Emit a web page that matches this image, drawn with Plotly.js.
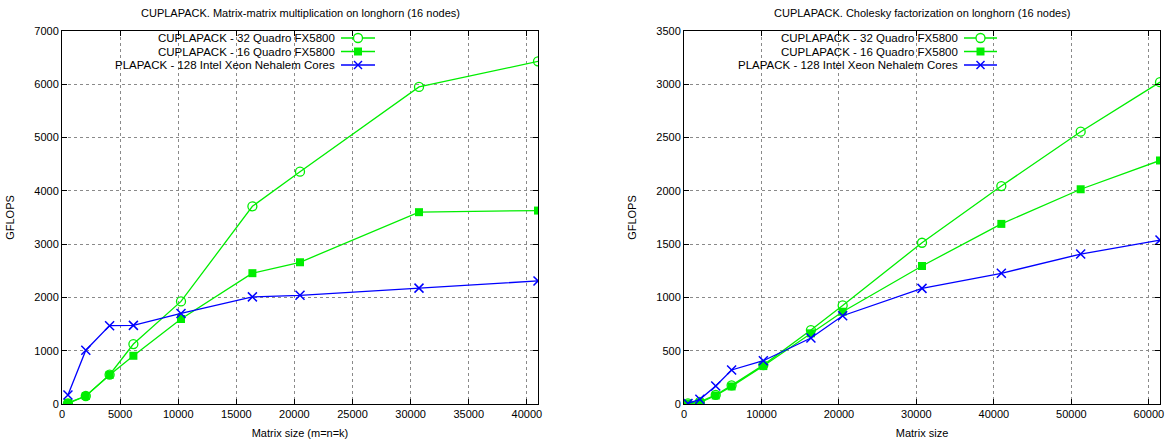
<!DOCTYPE html>
<html>
<head>
<meta charset="utf-8">
<script src="https://cdn.plot.ly/plotly-3.0.1.min.js"></script>
<style>html,body{margin:0;padding:0;background:#fff;}#chart{width:1167px;height:442px;}</style>
</head>
<body>
<div id="chart"></div>
<script>
// ---- data ----
const seriesNames = ["CUPLAPACK - 32 Quadro FX5800", "CUPLAPACK - 16 Quadro FX5800", "PLAPACK - 128 Intel Xeon Nehalem Cores"];
const titleLeft = "CUPLAPACK. Matrix-matrix multiplication on longhorn (16 nodes)";
const titleRight = "CUPLAPACK. Cholesky factorization on longhorn (16 nodes)";
const xLabelLeft = "Matrix size (m=n=k)";
const xLabelRight = "Matrix size";
const yLabel = "GFLOPS";

const sizesGemm = [512, 2048, 4096, 6144, 10240, 16384, 20480, 30720, 40960];
const gemm32 = [10, 150, 550, 1125, 1925, 3710, 4360, 5950, 6430];
const gemm16 = [20, 150, 545, 905, 1595, 2455, 2660, 3600, 3630];
const gemmPlapack = [170, 1010, 1470, 1475, 1700, 2010, 2040, 2175, 2310];

const sizesChol = [512, 2048, 4096, 6144, 10240, 16384, 20480, 30720, 40960, 51200, 61440];
const chol32 = [5, 20, 85, 175, 365, 694, 925, 1513, 2045, 2555, 3020];
const chol16 = [3, 12, 80, 165, 356, 663, 866, 1295, 1690, 2015, 2285];
const cholPlapack = [5, 44, 169, 319, 406, 619, 828, 1085, 1226, 1407, 1538];

// ---- styles ----
const GREEN = "#00ee00", BLUE = "#0000ff";
const FONT = "Liberation Sans, Arial, Helvetica, sans-serif";
const styles = [
  {color: GREEN, symbol: "circle-open", size: 9, lw: 1.3, key: "circle"},
  {color: GREEN, symbol: "square", size: 8, lw: 0, key: "square"},
  {color: BLUE, symbol: "x-thin-open", size: 9, lw: 1.5, key: "x"}
];

function mk(x, y, i, xa, ya) {
  const s = styles[i];
  return {
    type: "scatter", mode: "lines+markers", x: x, y: y, name: seriesNames[i],
    xaxis: xa, yaxis: ya, showlegend: false,
    line: {color: s.color, width: 1.3},
    marker: {color: s.color, symbol: s.symbol, size: s.size, line: {color: s.color, width: s.lw}},
    hoverinfo: "skip"
  };
}

const traces = [
  mk(sizesGemm, gemm32, 0, "x", "y"),
  mk(sizesGemm, gemm16, 1, "x", "y"),
  mk(sizesGemm, gemmPlapack, 2, "x", "y"),
  mk(sizesChol, chol32, 0, "x2", "y2"),
  mk(sizesChol, chol16, 1, "x2", "y2"),
  mk(sizesChol, cholPlapack, 2, "x2", "y2")
];

function axBase(extra) {
  return Object.assign({
    showline: true, linecolor: "#000", linewidth: 1, mirror: "ticks",
    ticks: "inside", ticklen: 5, tickcolor: "#000", tickwidth: 1,
    showgrid: true, gridcolor: "#8a8a8a", griddash: "dot", gridwidth: 1,
    zeroline: false, tickfont: {family: FONT, size: 11, color: "#000"},
    tickformat: "d", automargin: false
  }, extra);
}

const W = 1167, H = 442;
const px = v => v / W, py = v => 1 - v / H;

// gnuplot-style key: right-aligned text followed by a line sample with marker
const annotations = [
  {text: titleLeft, xref: "paper", yref: "paper", x: px(300), y: py(13), xanchor: "center", yanchor: "middle",
   showarrow: false, font: {family: FONT, size: 11}},
  {text: titleRight, xref: "paper", yref: "paper", x: px(922), y: py(13), xanchor: "center", yanchor: "middle",
   showarrow: false, font: {family: FONT, size: 11}}
];
const shapes = [];
const keys = [{textRight: 336, lineL: 341, lineR: 375}, {textRight: 959, lineL: 964, lineR: 997}];
const keyRows = [38, 51.5, 65];
function paperLine(x0, y0, x1, y1, color, width) {
  return {type: "line", xref: "paper", yref: "paper", x0: px(x0), x1: px(x1), y0: py(y0), y1: py(y1),
    line: {color: color, width: width}};
}
keys.forEach(k => {
  seriesNames.forEach((name, i) => {
    const s = styles[i];
    const yy = keyRows[i];
    const cx = (k.lineL + k.lineR) / 2;
    annotations.push({text: name, xref: "paper", yref: "paper", x: px(k.textRight), y: py(yy),
      xanchor: "right", yanchor: "middle", showarrow: false, borderpad: 0,
      font: {family: FONT, size: 11.5, color: "#000"}});
    shapes.push(paperLine(k.lineL, yy, k.lineR, yy, s.color, 1.5));
    if (s.key === "circle") {
      shapes.push({type: "circle", xref: "paper", yref: "paper", x0: px(cx - 4.5), x1: px(cx + 4.5),
        y0: py(yy + 4.5), y1: py(yy - 4.5), line: {color: s.color, width: 1.3}, fillcolor: "#fff"});
    } else if (s.key === "square") {
      shapes.push({type: "rect", xref: "paper", yref: "paper", x0: px(cx - 4), x1: px(cx + 4),
        y0: py(yy + 4), y1: py(yy - 4), line: {width: 0}, fillcolor: s.color});
    } else {
      shapes.push(paperLine(cx - 4, yy - 4, cx + 4, yy + 4, s.color, 1.5));
      shapes.push(paperLine(cx - 4, yy + 4, cx + 4, yy - 4, s.color, 1.5));
    }
  });
});

const layout = {
  width: W, height: H,
  margin: {l: 0, r: 0, t: 0, b: 0},
  paper_bgcolor: "#fff", plot_bgcolor: "#fff",
  font: {family: FONT, size: 11, color: "#000"},
  showlegend: false,
  xaxis: axBase({domain: [px(62), px(538)], range: [0, 40960], dtick: 5000, tick0: 0,
    title: {text: xLabelLeft, font: {family: FONT, size: 11}, standoff: 10}, anchor: "y"}),
  yaxis: axBase({domain: [py(404), py(31)], range: [0, 7000], dtick: 1000,
    title: {text: yLabel, font: {family: FONT, size: 11}, standoff: 17}, anchor: "x"}),
  xaxis2: axBase({domain: [px(684), px(1160)], range: [0, 61440], dtick: 10000, tick0: 0,
    title: {text: xLabelRight, font: {family: FONT, size: 11}, standoff: 10}, anchor: "y2"}),
  yaxis2: axBase({domain: [py(404), py(31)], range: [0, 3500], dtick: 500,
    title: {text: yLabel, font: {family: FONT, size: 11}, standoff: 17}, anchor: "x2"}),
  annotations: annotations,
  shapes: shapes
};

Plotly.newPlot("chart", traces, layout, {displayModeBar: false, staticPlot: true});
</script>
</body>
</html>
